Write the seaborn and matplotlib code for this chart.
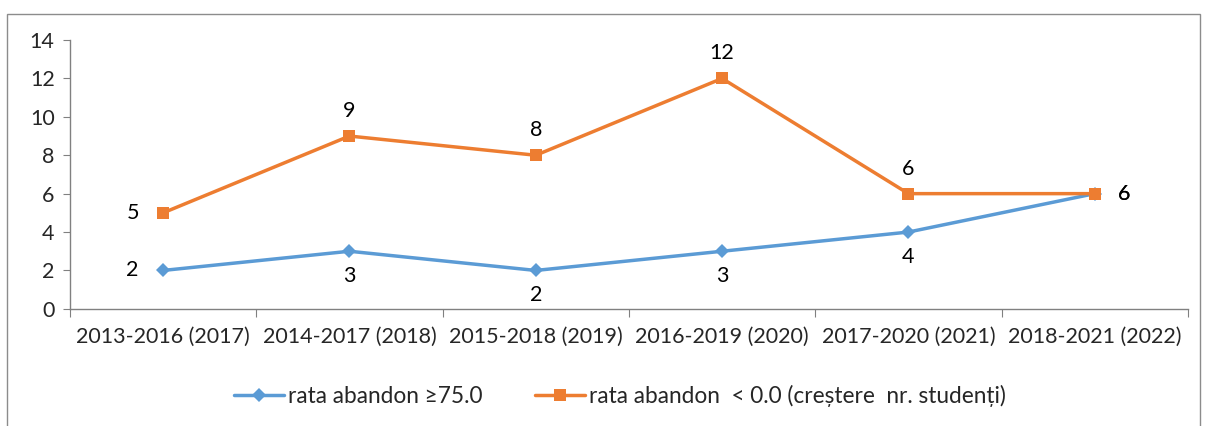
import matplotlib.pyplot as plt
import numpy as np
import pandas as pd
import seaborn as sns
from matplotlib.lines import Line2D
from matplotlib.patches import Rectangle

cohorte = ["2013-2016 (2017)", "2014-2017 (2018)", "2015-2018 (2019)",
           "2016-2019 (2020)", "2017-2020 (2021)", "2018-2021 (2022)"]
abandon_75 = [2, 3, 2, 3, 4, 6]
abandon_neg = [5, 9, 8, 12, 6, 6]
eticheta_75 = "rata abandon \u226575.0"
eticheta_neg = "rata abandon  < 0.0 (cre\u0219tere  nr. studen\u021bi)"

albastru = "#5B9BD5"
portocaliu = "#ED7D31"

sns.set_style("white")
plt.rcParams["font.family"] = ["Lato", "DejaVu Sans"]
marime = 15.5

df = pd.DataFrame({"cohorta": cohorte, "a75": abandon_75, "neg": abandon_neg})

fig = plt.figure(figsize=(12.06, 4.26), dpi=100)
ax = fig.add_axes([0.058, 0.275, 0.927, 0.631])

sns.lineplot(data=df, x="cohorta", y="a75", color=albastru, lw=2.5,
             marker="D", markersize=7, markeredgewidth=0, sort=False, ax=ax)
sns.lineplot(data=df, x="cohorta", y="neg", color=portocaliu, lw=2.5,
             marker="s", markersize=8, markeredgewidth=0, sort=False, ax=ax)

# etichete de date (poziții în stil Excel)
poz_75 = ["left", "below", "below", "below", "below", "right"]
poz_neg = ["left", "above", "above", "above", "above", "right"]
decalaj = {"left": (-22, 0), "right": (21, 0), "above": (0, 18), "below": (0, -18)}
for valori, pozitii in ((abandon_75, poz_75), (abandon_neg, poz_neg)):
    for i, (v, p) in enumerate(zip(valori, pozitii)):
        ax.annotate(str(v), (i, v), xytext=decalaj[p], textcoords="offset points",
                    ha="center", va="center", fontsize=marime, color="#000000")

ax.set_xlim(-0.5, len(cohorte) - 0.5)
ax.set_ylim(0, 14)
ax.set_yticks(range(0, 15, 2))
ax.set_xticks(np.arange(-0.5, len(cohorte), 1.0))
ax.set_xticklabels([])
ax.set_xticks(range(len(cohorte)), minor=True)
ax.set_xticklabels(cohorte, minor=True, fontsize=marime)
ax.tick_params(axis="x", which="minor", length=0, pad=13)
ax.tick_params(axis="x", which="major", length=6, color="#808080", direction="out")
ax.tick_params(axis="y", length=5, color="#808080", direction="out", labelsize=marime, pad=6)
ax.tick_params(bottom=True, left=True)
ax.set_xlabel("")
ax.set_ylabel("")

for s in ("top", "right"):
    ax.spines[s].set_visible(False)
for s in ("left", "bottom"):
    ax.spines[s].set_color("#808080")
    ax.spines[s].set_linewidth(1)

handles = [
    Line2D([], [], color=albastru, lw=2.5, marker="D", markersize=7, markeredgewidth=0),
    Line2D([], [], color=portocaliu, lw=2.5, marker="s", markersize=8, markeredgewidth=0),
]
fig.legend(handles, [eticheta_75, eticheta_neg], loc="center", bbox_to_anchor=(0.514, 0.07),
           ncol=2, frameon=False, fontsize=16.3, handlelength=2.2, handletextpad=0.2,
           columnspacing=2.3)

fig.patches.append(Rectangle((0.006, -0.01), 0.989, 0.977, transform=fig.transFigure,
                             fill=False, edgecolor="#8c8c8c", lw=1))

fig.savefig("out.png", dpi=100)
